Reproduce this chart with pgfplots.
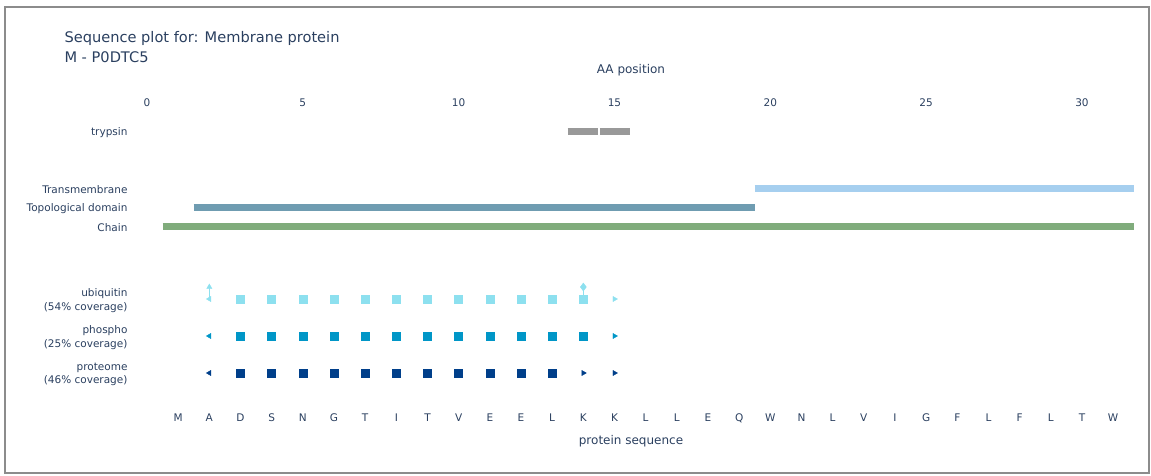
\documentclass[border=0pt]{standalone}
\usepackage{pgfplots}
\pgfplotsset{compat=1.18}
\usepackage{fontspec}
\setmainfont{DejaVu Sans}
\definecolor{txt}{HTML}{2A3F5F}
\definecolor{tryp}{HTML}{999999}
\definecolor{tmem}{HTML}{A6CFEF}
\definecolor{topo}{HTML}{6F9CB1}
\definecolor{chain}{HTML}{80AC7C}
\definecolor{ubi}{HTML}{8DE0EF}
\definecolor{pho}{HTML}{0096C7}
\definecolor{prot}{HTML}{003F8A}
\begin{document}
\begin{tikzpicture}
\useasboundingbox (0,0) rectangle (1151bp,476bp);
\draw[color=gray!90, line width=2bp] (5bp,3bp) rectangle (1149bp,469bp);
\node[anchor=west, text=txt, font=\fontsize{14.6bp}{17bp}\selectfont] at (61bp,438bp) {Sequence plot for: Membrane protein};
\node[anchor=west, text=txt, font=\fontsize{14.6bp}{17bp}\selectfont] at (61bp,419bp) {M - P0DTC5};
\node[text=txt, font=\fontsize{12bp}{14bp}\selectfont] at (631bp,406bp) {AA position};
\node[text=txt, font=\fontsize{12bp}{14bp}\selectfont] at (631bp,35bp) {protein sequence};
\begin{axis}[
  at={(147bp,66bp)}, anchor=south west,
  scale only axis, width=987bp, height=300bp,
  xmin=0, xmax=31.67, ymin=110, ymax=410, y dir=reverse,
  axis line style={draw=none}, major tick length=0pt,
  xtick={0,5,10,15,20,25,30}, xticklabel pos=upper,
  ytick={131,188,207,226,299,336,373},
  yticklabels={trypsin,Transmembrane,Topological domain,Chain,{ubiquitin\\(54\% coverage)},{phospho\\(25\% coverage)},{proteome\\(46\% coverage)}},
  yticklabel style={align=right, xshift=-16bp, yshift=-1.5bp, font=\fontsize{10.5bp}{13.5bp}\selectfont, text=txt},
  xticklabel style={font=\fontsize{10.5bp}{12bp}\selectfont, text=txt},
  /pgf/number format/assume math mode=true,
]
% feature bars
\addplot[tryp, line width=7bp] coordinates {(13.5,131) (14.47,131)};
\addplot[tryp, line width=7bp] coordinates {(14.53,131) (15.5,131)};
\addplot[tmem, line width=7bp] coordinates {(19.5,188) (31.67,188)};
\addplot[topo, line width=7bp] coordinates {(1.5,207) (19.5,207)};
\addplot[chain, line width=7bp] coordinates {(0.5,226) (31.67,226)};
% ubiquitin
\addplot[ubi, line width=0.8bp] coordinates {(2,299) (2,287)};
\addplot[ubi, line width=0.8bp] coordinates {(14,299) (14,287)};
\addplot[only marks, mark=triangle*, mark size=3bp, mark options={rotate=90, ubi, fill=ubi}] coordinates {(2,299)};
\addplot[only marks, mark=triangle*, mark size=3bp, mark options={ubi, fill=ubi}] coordinates {(2,287)};
\addplot[only marks, mark=diamond*, mark size=4bp, mark options={ubi, fill=ubi}] coordinates {(14,287)};
\addplot[only marks, mark=square*, mark size=4bp, mark options={ubi, fill=ubi}] coordinates {(3,299)(4,299)(5,299)(6,299)(7,299)(8,299)(9,299)(10,299)(11,299)(12,299)(13,299)(14,299)};
\addplot[only marks, mark=triangle*, mark size=3bp, mark options={rotate=-90, ubi, fill=ubi}] coordinates {(15,299)};
% phospho
\addplot[only marks, mark=triangle*, mark size=3bp, mark options={rotate=90, pho, fill=pho}] coordinates {(2,336)};
\addplot[only marks, mark=square*, mark size=4bp, mark options={pho, fill=pho}] coordinates {(3,336)(4,336)(5,336)(6,336)(7,336)(8,336)(9,336)(10,336)(11,336)(12,336)(13,336)(14,336)};
\addplot[only marks, mark=triangle*, mark size=3bp, mark options={rotate=-90, pho, fill=pho}] coordinates {(15,336)};
% proteome
\addplot[only marks, mark=triangle*, mark size=3bp, mark options={rotate=90, prot, fill=prot}] coordinates {(2,373)};
\addplot[only marks, mark=square*, mark size=4bp, mark options={prot, fill=prot}] coordinates {(3,373)(4,373)(5,373)(6,373)(7,373)(8,373)(9,373)(10,373)(11,373)(12,373)(13,373)};
\addplot[only marks, mark=triangle*, mark size=3bp, mark options={rotate=-90, prot, fill=prot}] coordinates {(14,373)(15,373)};
\end{axis}
\begin{axis}[
  at={(147bp,66bp)}, anchor=south west,
  scale only axis, width=987bp, height=300bp,
  xmin=0, xmax=31.67, ymin=0, ymax=1,
  axis line style={draw=none}, major tick length=0pt,
  xtick={1,...,31}, xticklabel pos=lower, ytick=\empty,
  xticklabels={M,A,D,S,N,G,T,I,T,V,E,E,L,K,K,L,L,E,Q,W,N,L,V,I,G,F,L,F,L,T,W},
  xticklabel style={font=\fontsize{10.5bp}{12bp}\selectfont, text=txt},
]
\addplot[draw=none] coordinates {(1,0.5)};
\end{axis}
\end{tikzpicture}
\end{document}
